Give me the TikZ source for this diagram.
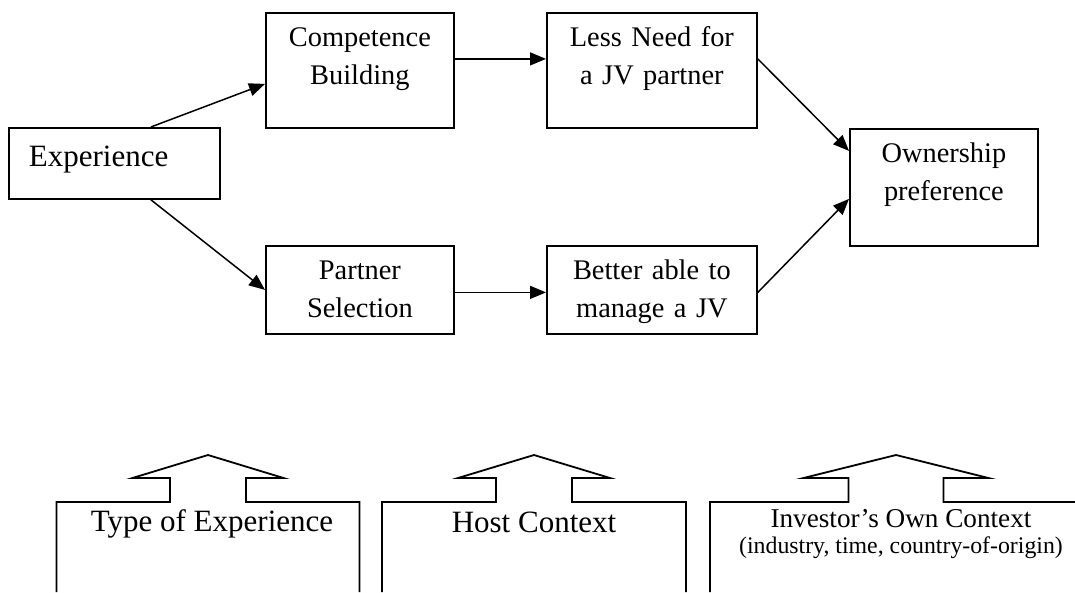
\documentclass[tikz,border=0pt]{standalone}
\usepackage{fontspec}
\setmainfont{Liberation Serif}
\usetikzlibrary{arrows.meta}
\begin{document}
\begin{tikzpicture}[x=1pt, y=-1pt,
  flowbox/.style={draw, line width=1.8pt, inner sep=0pt, align=center, anchor=north west, text height=34pt, font=\fontsize{28.4}{37.5}\selectfont},
  flowarrow/.style={line width=1.5pt, -{Triangle[length=16pt,width=13pt]}},
  contextline/.style={line width=1.8pt, line join=miter},
  contexttext/.style={anchor=base, inner sep=0pt, font=\fontsize{31}{36}\selectfont}]
\useasboundingbox (0,0) rectangle (1075,592);
\node[flowbox, text width=171pt, inner xsep=20pt, align=left, text height=39pt, text depth=32pt, font=\fontsize{31}{36}\selectfont] (exp) at (8,127) {Experience};
\node[flowbox, text width=188pt, text depth=81pt] (comp) at (265,12) {Competence\\Building};
\node[flowbox, text width=210pt, text depth=81pt] (less) at (546,12) {Less Need for\\a JV partner};
\node[flowbox, text width=188pt, text depth=83pt] (own) at (849,128) {Ownership\\preference};
\node[flowbox, text width=188pt, text depth=54pt] (part) at (265,245) {Partner\\Selection};
\node[flowbox, text width=210pt, text depth=54pt] (better) at (546,245) {Better able to\\manage a JV};
\draw[flowarrow] ([xshift=36.5pt]exp.north) -- ([yshift=-13.5pt]comp.west);
\draw[flowarrow] ([xshift=36.5pt]exp.south) -- (part.west);
\draw[flowarrow] ([yshift=11.5pt]comp.east) -- ([yshift=11.5pt]less.west);
\draw[flowarrow] ([yshift=-2.5pt]part.east) -- ([yshift=-2.5pt]better.west);
\draw[flowarrow] ([yshift=11.5pt]less.east) -- ([yshift=36.5pt]own.west);
\draw[flowarrow] ([yshift=-2.5pt]better.east) -- ([yshift=-11.5pt]own.west);
\foreach \cx/\bw/\sw/\ww in {208/151.5/38/75.5, 534/152/38/76, 896/186/47.5/92.5}
  \draw[contextline] (\cx-\bw,592) -- (\cx-\bw,502) -- (\cx-\sw,502) -- (\cx-\sw,478) -- (\cx-\ww,478) -- (\cx,455) -- (\cx+\ww,478) -- (\cx+\sw,478) -- (\cx+\sw,502) -- (\cx+\bw,502) -- (\cx+\bw,592);
\node[contexttext] (typeexp) at (212,531) {Type of Experience};
\node[contexttext] (host) at (534,532) {Host Context};
\node[contexttext, font=\fontsize{27.2}{32}\selectfont] (investor) at (901,527) {Investor’s Own Context};
\node[contexttext, font=\fontsize{23.8}{28}\selectfont] (investordetail) at (901,553) {(industry, time, country-of-origin)};
\end{tikzpicture}
\end{document}
